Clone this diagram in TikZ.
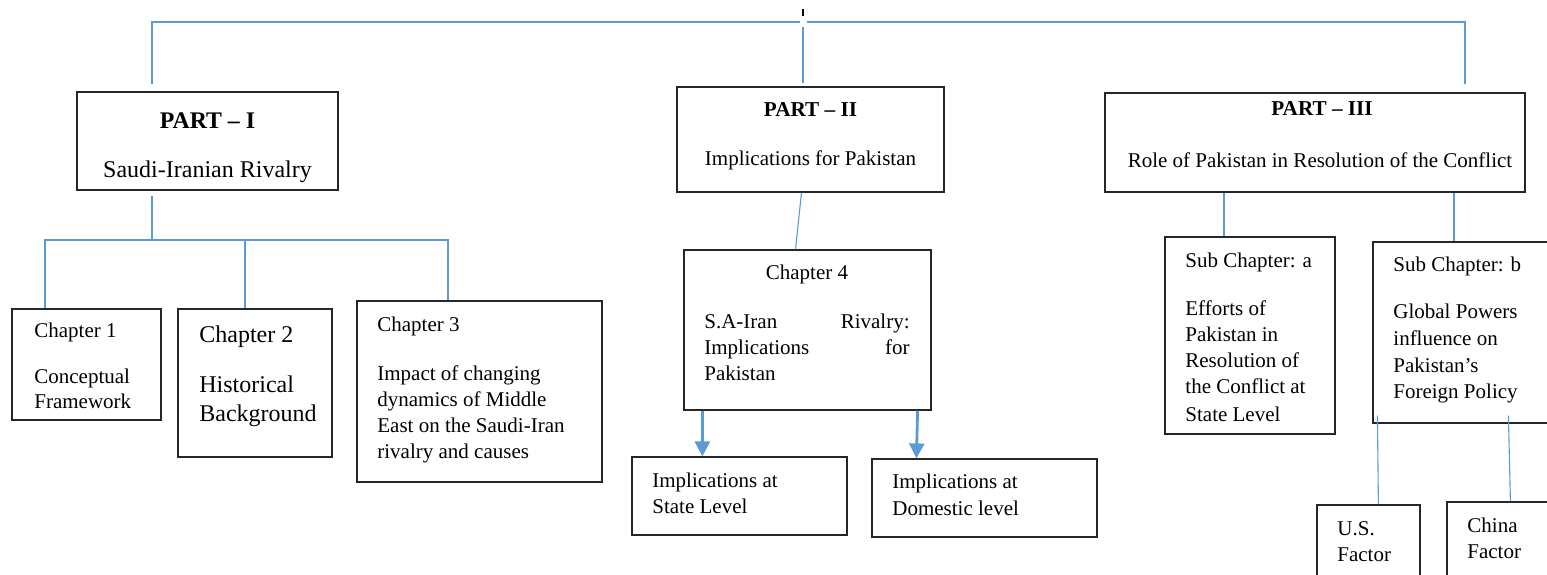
\documentclass[tikz,border=0pt]{standalone}
\usepackage{fontspec}
\setmainfont{Liberation Serif}
\usetikzlibrary{fit,arrows.meta,calc}
\definecolor{lblue}{HTML}{5B9BD5}
\begin{document}
\begin{tikzpicture}[x=0.5pt,y=-0.5pt,
  box/.style={draw=black!85, line width=0.6pt, inner sep=0pt},
  conn/.style={draw=lblue, line width=0.55pt},
  arr/.style={draw=lblue, line width=1.4pt, -{Triangle[length=7.5pt,width=7.5pt]}},
  tl/.style={anchor=base west, inner sep=0pt, font=\fontsize{10.5}{13}\selectfont},
  tr/.style={anchor=base east, inner sep=0pt, font=\fontsize{10.5}{13}\selectfont},
  tc/.style={anchor=base, inner sep=0pt, font=\fontsize{10.5}{13}\selectfont},
  big/.style={font=\fontsize{12}{15}\selectfont},
  bold/.style={font=\fontsize{10.6}{13}\selectfont\bfseries},
  bigbold/.style={font=\fontsize{11.9}{14}\selectfont\bfseries}]
\useasboundingbox (0,0) rectangle (1547,574);

% boxes
\node[box, fit={(77,92) (338,190)}] (p1) {};
\node[box, fit={(677,87) (944,192)}] (p2) {};
\node[box, fit={(1105,93) (1525,192)}] (p3) {};
\node[box, fit={(12,309) (161,420)}] (ch1) {};
\node[box, fit={(178,309) (332,457)}] (ch2) {};
\node[box, fit={(357,301) (602,482)}] (ch3) {};
\node[box, fit={(684,250) (931,410)}] (ch4) {};
\node[box, fit={(632,457) (847,535)}] (st) {};
\node[box, fit={(872,459) (1097,537)}] (dom) {};
\node[box, fit={(1165,237) (1335,434)}] (sa) {};
\node[box, fit={(1373,242) (1556,423)}] (sb) {};
\node[box, fit={(1317,505) (1420,585)}] (us) {};
\node[box, fit={(1447,502) (1556,585)}] (cn) {};

% texts
\node[tc, bigbold] at (207.5,128) {PART -- I};
\node[tc, big] at (207.5,177) {Saudi-Iranian Rivalry};
\node[tc, bold] at (810.5,116) {PART -- II};
\node[tc] at (810.5,165) {Implications for Pakistan};
\node[tc, bold] at (1322,115) {PART -- III};
\node[tc] at (1320,167) {Role of Pakistan in Resolution of the Conflict};

\node[tl] at (34,337) {Chapter 1};
\node[tl] at (34,383) {Conceptual};
\node[tl] at (34,408) {Framework};

\node[tl, big] at (199,342) {Chapter 2};
\node[tl, big] at (199,392) {Historical};
\node[tl, big] at (199,421) {Background};

\node[tl] at (377,331) {Chapter 3};
\node[tl] at (377,380) {Impact of changing};
\node[tl] at (377,406) {dynamics of Middle};
\node[tl] at (377,432) {East on the Saudi-Iran};
\node[tl] at (377,458) {rivalry and causes};

\node[tc] at (807,279) {Chapter 4};
\node[tl] at (704,328) {S.A-Iran};
\node[tr] at (910,328) {Rivalry:};
\node[tl] at (704,354) {Implications};
\node[tr] at (910,354) {for};
\node[tl] at (704,380) {Pakistan};

\node[tl] at (652,487) {Implications at};
\node[tl] at (652,513) {State Level};
\node[tl] at (892,488) {Implications at};
\node[tl] at (892,515) {Domestic level};

\node[tl] at (1185,267) {Sub Chapter: a};
\node[tl] at (1185,315) {Efforts of};
\node[tl] at (1185,341) {Pakistan in};
\node[tl] at (1185,367) {Resolution of};
\node[tl] at (1185,393) {the Conflict at};
\node[tl] at (1185,421) {State Level};

\node[tl] at (1393,271) {Sub Chapter: b};
\node[tl] at (1393,318) {Global Powers};
\node[tl] at (1393,345) {influence on};
\node[tl] at (1393,372) {Pakistan’s};
\node[tl] at (1393,398) {Foreign Policy};

\node[tl] at (1337,535) {U.S.};
\node[tl] at (1337,561) {Factor};
\node[tl] at (1467,532) {China};
\node[tl] at (1467,558) {Factor};

% top connectors
\coordinate (t1) at (152,22);
\coordinate (t2) at (803,22);
\coordinate (t3) at (1465,22);
\draw[conn] ($(p1.north -| t1)+(0,-7)$) -- (t1) -- ($(t2)+(-3,0)$);
\draw[conn] ($(t2)+(4,0)$) -- (t3) -- ($(p3.north -| t3)+(0,-8)$);
\draw[conn] ($(t2)+(0,5)$) -- ($(p2.north -| t2)+(0,-3)$);
\draw[black, line width=0.6pt] ($(t2)+(0,-13)$) -- ($(t2)+(0,-6)$);

% part I children
\coordinate (j1) at (152,240);
\coordinate (h1) at (45,240);
\coordinate (h2) at (245,240);
\coordinate (h3) at (448,240);
\draw[conn] ($(p1.south -| j1)+(0,5)$) -- (j1);
\draw[conn] (ch1.north -| h1) -- (h1) -- (h3) -- (ch3.north -| h3);
\draw[conn] (h2) -- (ch2.north -| h2);

% part II children
\draw[conn] ($(p2.south)+(-9,0)$) -- ($(ch4.north)+(-12,0)$);
\draw[arr] ($(ch4.south west)+(19,0)$) -- ($(st.north west)+(71,0)$);
\draw[arr] ($(ch4.south east)+(-14,0)$) -- ($(dom.north west)+(45,0)$);

% part III children
\coordinate (s1) at (1224,0);
\coordinate (s2) at (1454,0);
\draw[conn] (p3.south -| s1) -- (sa.north -| s1);
\draw[conn] (p3.south -| s2) -- (sb.north -| s2);
\draw[conn] ($(sb.south west)+(5,-8)$) -- ($(us.north west)+(62,0)$);
\draw[conn] ($(sb.south west)+(136,-8)$) -- ($(cn.north west)+(64,0)$);
\end{tikzpicture}
\end{document}
